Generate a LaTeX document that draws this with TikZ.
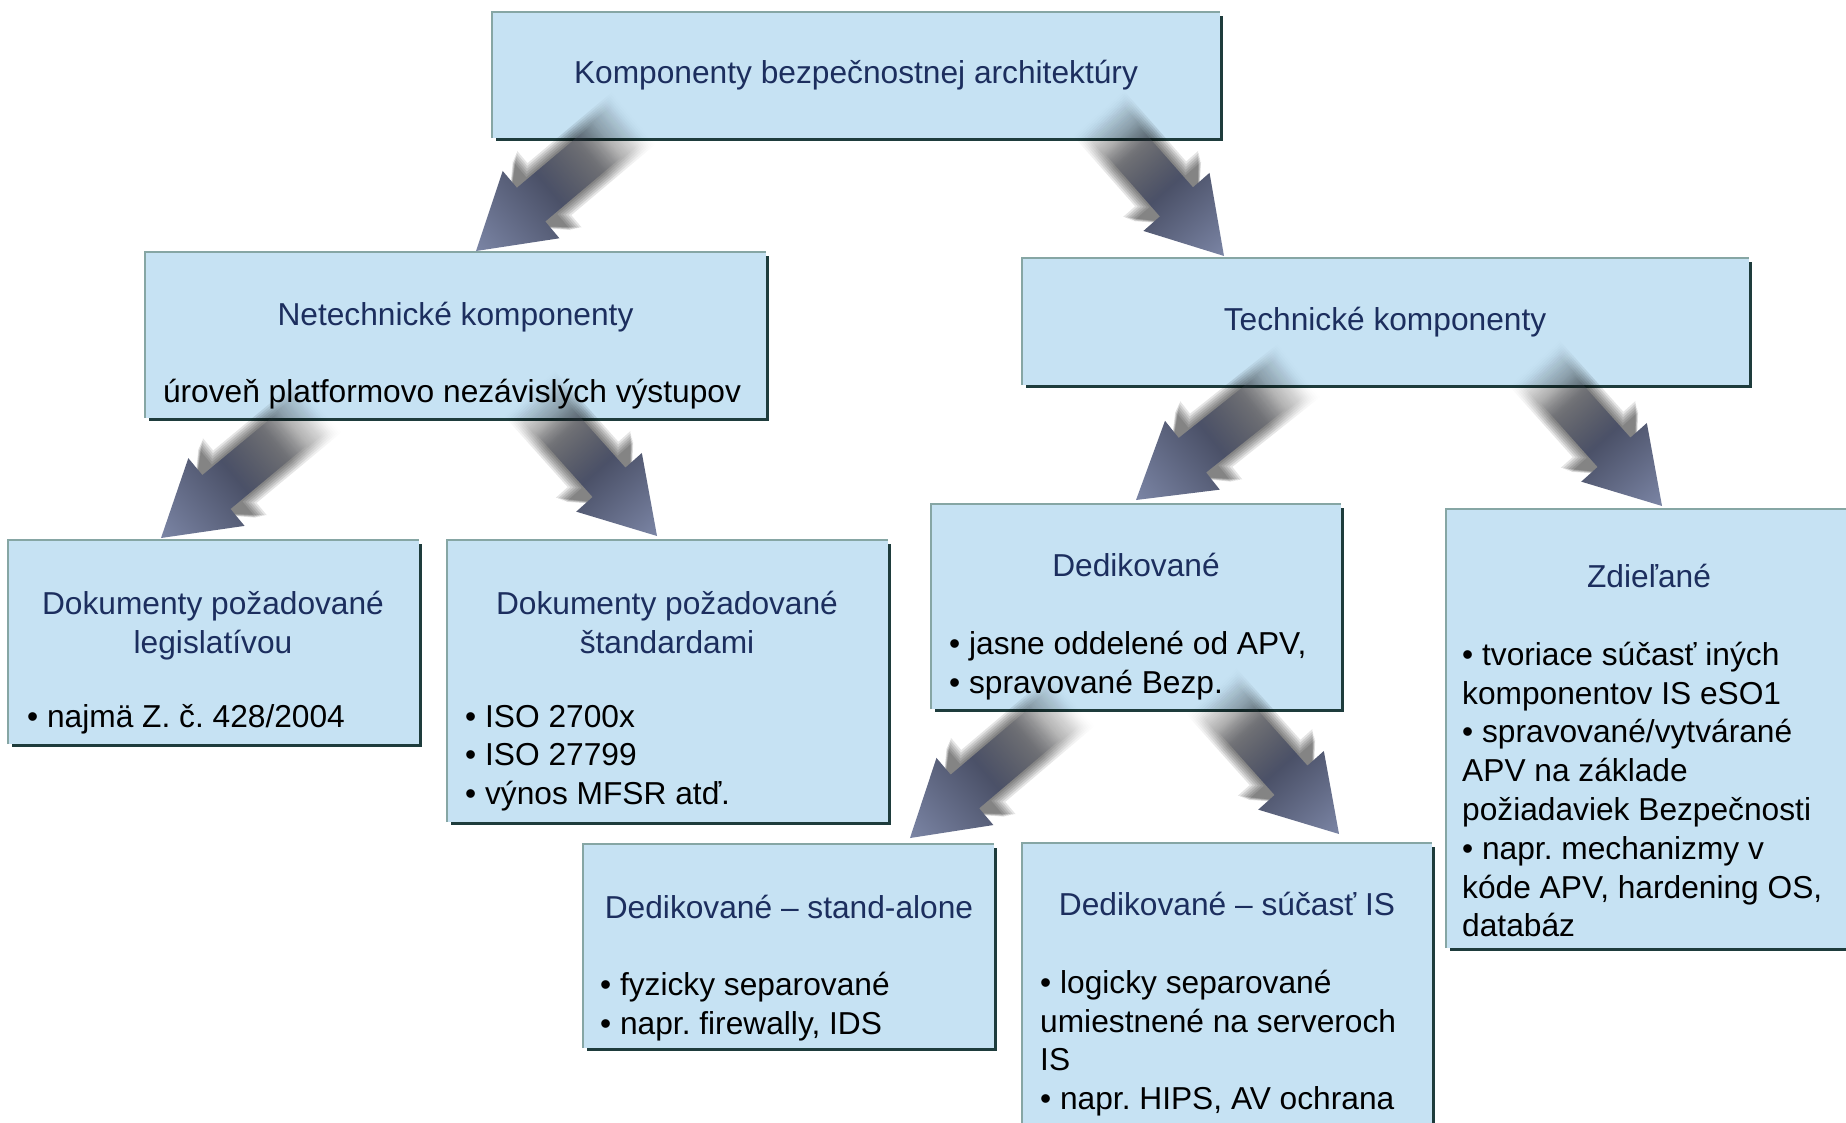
\documentclass[tikz,border=0pt]{standalone}
\usepackage{fontspec}
\setmainfont{Liberation Sans}
\usetikzlibrary{calc,fadings}

\definecolor{boxfill}{HTML}{C6E2F3}
\definecolor{edgelight}{HTML}{86A6A4}
\definecolor{edgedark}{HTML}{1E3C3C}
\definecolor{headcol}{HTML}{1C2E5E}
\definecolor{arrtail}{HTML}{3A3C46}
\definecolor{arrmid}{HTML}{4B5168}
\definecolor{arrtip}{HTML}{7B85A5}

% colour ramp along a block arrow (tail -> tip)
\pgfdeclarehorizontalshading{arrowbody}{100bp}{color(0bp)=(arrtail); color(25bp)=(arrtail); color(50bp)=(arrmid); color(75bp)=(arrtip); color(100bp)=(arrtip)}
% the tail of each arrow (and of its shadow) dissolves into the background
\pgfdeclarehorizontalshading{tailmask}{100bp}{color(0bp)=(black); color(30bp)=(black); color(50bp)=(white); color(100bp)=(white)}
\pgfdeclarefading{tailfade}{\pgfuseshading{tailmask}}
\pgfdeclarehorizontalshading{shadowmask}{100bp}{color(0bp)=(black); color(25bp)=(black); color(42bp)=(white); color(100bp)=(white)}
\pgfdeclarefading{shadowfade}{\pgfuseshading{shadowmask}}

\newcommand\bodyfont{\fontsize{31.7}{38.8}\selectfont\frenchspacing}

% block arrow from coordinate #1 (tail) to coordinate #2 (tip)
\newcommand\flowarrow[2]{%
  \pgfmathanglebetweenpoints{\pgfpointanchor{#1}{center}}{\pgfpointanchor{#2}{center}}%
  \let\faang\pgfmathresult
  \pgfpointdiff{\pgfpointanchor{#1}{center}}{\pgfpointanchor{#2}{center}}%
  \pgfgetlastxy{\fadx}{\fady}%
  \pgfmathsetmacro\falen{veclen(\fadx,\fady)}%
  \begin{scope}[transform canvas={shift={(#1)},rotate=\faang}]
    % soft shadow behind shaft and barbs, built from widening translucent layers
    \foreach \e in {12,10,8,6,4,2} {
      \fill[black, opacity=0.1, path fading=shadowfade]
        (-4-\e, 22+\e) -- (\falen-84-\e, 22+\e) -- (\falen-84-\e, 44+0.5*\e)
        -- (\falen-40, 0)
        -- (\falen-84-\e, -44-0.5*\e) -- (\falen-84-\e, -22-\e) -- (-4-\e, -22-\e) -- cycle;
    }
    \shade[shading=arrowbody, path fading=tailfade]
      (0,22) -- (\falen-72,22) -- (\falen-72,44) -- (\falen,0)
      -- (\falen-72,-44) -- (\falen-72,-22) -- (0,-22) -- cycle;
  \end{scope}
}

% light outline on top/left, dark drop edge on right/bottom
\newcommand\boxedges[1]{%
  \draw[line width=3pt, edgedark] ($(#1.north east)+(1.5,-4)$) -- ($(#1.south east)+(1.5,-1.5)$) -- ($(#1.south west)+(4,-1.5)$);
  \draw[line width=2.5pt, edgelight] (#1.south west) -- (#1.north west) -- (#1.north east);
}

\tikzset{
  box/.style={fill=boxfill, inner sep=0pt, outer sep=0pt, anchor=north west},
  head/.style={font=\bodyfont, text=headcol, inner sep=0pt, align=center},
  body/.style={font=\bodyfont, text=black, inner sep=0pt, align=left, anchor=north west},
}

\begin{document}
\begin{tikzpicture}[x=1pt, y=1pt]
\useasboundingbox (0,0) rectangle (1846,-1122);
\clip (0,0) rectangle (1846,-1122);
\fill[white] (0,0) rectangle (1846,-1122);

% boxes
\node[box, minimum width=728pt, minimum height=126pt] (top) at (492,-12) {};
\node[box, minimum width=621pt, minimum height=166pt] (net) at (145,-252) {};
\node[box, minimum width=727pt, minimum height=127pt] (tec) at (1022,-258) {};
\node[box, minimum width=411pt, minimum height=204pt] (leg) at (8,-540) {};
\node[box, minimum width=441pt, minimum height=282pt] (std) at (447,-540) {};
\node[box, minimum width=410pt, minimum height=205pt] (ded) at (931,-504) {};
\node[box, minimum width=406pt, minimum height=439pt] (zdi) at (1446,-509) {};
\node[box, minimum width=411pt, minimum height=204pt] (sa) at (583,-844) {};
\node[box, minimum width=410pt, minimum height=300pt] (sis) at (1022,-843) {};
\foreach \b in {top,net,tec,leg,std,ded,zdi,sa,sis} {\boxedges{\b}}

% headings
\node[head, anchor=base] (top-h) at (856,-83.5) {Komponenty bezpečnostnej architektúry};
\node[head, anchor=base] (net-h) at (455.5,-325.5) {Netechnické komponenty};
\node[head, anchor=base, text=black] (net-b) at (452,-402.5) {úroveň platformovo nezávislých výstupov};
\node[head, anchor=base] (tec-h) at (1385,-330.5) {Technické komponenty};
\node[head, anchor=north] (leg-h) at (213,-590.7) {Dokumenty požadované\\legislatívou};
\node[head, anchor=north] (std-h) at (667,-590.7) {Dokumenty požadované\\štandardami};
\node[head, anchor=base] (ded-h) at (1136,-576.5) {Dedikované};
\node[head, anchor=base] (zdi-h) at (1649,-587.5) {Zdieľané};
\node[head, anchor=base] (sa-h) at (789,-918.5) {Dedikované – stand-alone};
\node[head, anchor=base] (sis-h) at (1227,-915.5) {Dedikované – súčasť IS};

% body texts
\node[body] (leg-b) at (27,-704.7) {• najmä Z. č. 428/2004};
\node[body] (std-b) at (465,-704.7) {• ISO 2700x\\• ISO 27799\\• výnos MFSR atď.};
\node[body] (ded-b) at (949,-630.7) {• jasne oddelené od APV,\\• spravované Bezp.};
\node[body] (zdi-b) at (1462,-641.7) {• tvoriace súčasť iných\\komponentov IS eSO1\\• spravované/vytvárané\\APV na základe\\požiadaviek Bezpečnosti\\• napr. mechanizmy v\\kóde APV, hardening OS,\\databáz};
\node[body] (sa-b) at (600,-971.7) {• fyzicky separované\\• napr. firewally, IDS};
\node[body] (sis-b) at (1040,-969.7) {• logicky separované\\umiestnené na serveroch\\IS\\• napr. HIPS, AV ochrana};

% arrow ends: tails start just inside the parent box, tips touch the child box
\coordinate (a1t) at ($(top.south west)+(130,10)$);
\coordinate (a1e) at ($(net.north west)+(331,1)$);
\coordinate (a2t) at ($(top.south west)+(616,14)$);
\coordinate (a2e) at ($(tec.north west)+(202,2)$);
\coordinate (a3t) at ($(net.south west)+(163,2)$);
\coordinate (a3e) at ($(leg.north west)+(153,2)$);
\coordinate (a4t) at ($(net.south west)+(394,14)$);
\coordinate (a4e) at ($(std.north west)+(210,4)$);
\coordinate (a5t) at ($(tec.south west)+(265,5)$);
\coordinate (a5e) at ($(ded.north west)+(205,4)$);
\coordinate (a6t) at ($(tec.south west)+(522,11)$);
\coordinate (a6e) at ($(zdi.north west)+(216,3)$);
\coordinate (a7t) at ($(ded.south west)+(130,-1)$);
\coordinate (a7e) at ($(sa.north west)+(327,6)$);
\coordinate (a8t) at ($(ded.south west)+(290,7)$);
\coordinate (a8e) at ($(sis.north west)+(317,9)$);

\flowarrow{a1t}{a1e}
\flowarrow{a2t}{a2e}
\flowarrow{a3t}{a3e}
\flowarrow{a4t}{a4e}
\flowarrow{a5t}{a5e}
\flowarrow{a6t}{a6e}
\flowarrow{a7t}{a7e}
\flowarrow{a8t}{a8e}
\end{tikzpicture}
\end{document}
